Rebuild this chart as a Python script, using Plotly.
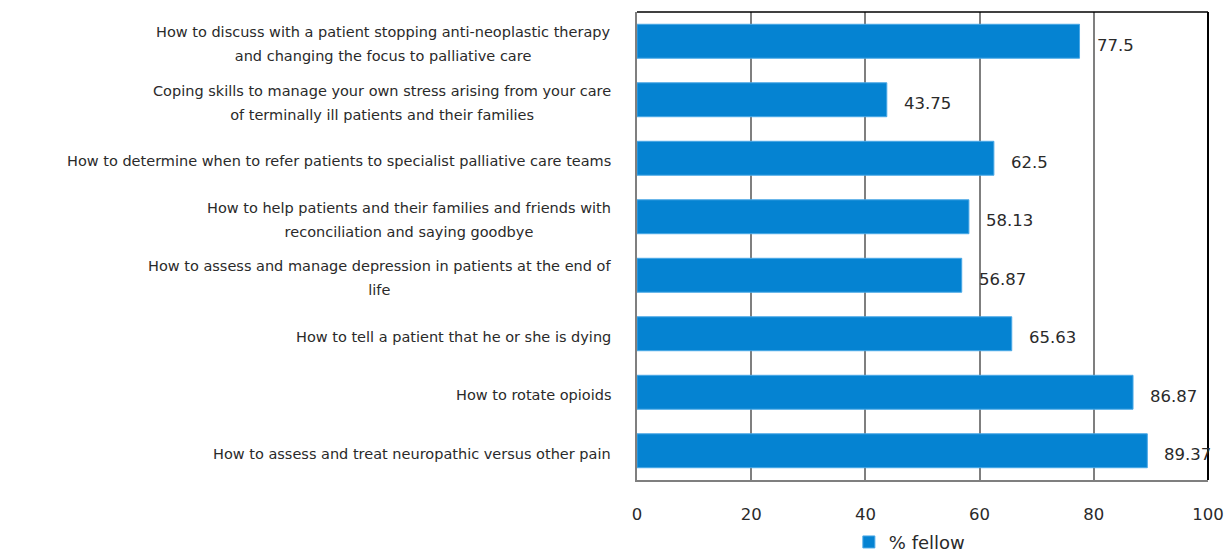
import plotly.graph_objects as go

categories = [
    "How to discuss with a patient stopping anti-neoplastic therapy<br>and changing the focus to palliative care",
    "Coping skills to manage your own stress arising from your care<br>of terminally ill patients and their families",
    "How to determine when to refer patients to specialist palliative care teams",
    "How to help patients and their families and friends with<br>reconciliation and saying goodbye",
    "How to assess and manage depression in patients at the end of<br>life",
    "How to tell a patient that he or she is dying",
    "How to rotate opioids",
    "How to assess and treat neuropathic versus other pain",
]
values = [77.5, 43.75, 62.5, 58.13, 56.87, 65.63, 86.87, 89.37]
value_labels = ["77.5", "43.75", "62.5", "58.13", "56.87", "65.63", "86.87", "89.37"]
series_name = "% fellow"
x_ticks = [0, 20, 40, 60, 80, 100]

FONT = "DejaVu Sans"
BAR = "#0583d2"
TXT = "#2a2a2a"

fig = go.Figure()
fig.add_trace(go.Bar(
    y=categories, x=values, orientation="h", name=series_name,
    marker=dict(color=BAR, line=dict(color="#4aa8e6", width=1)),
    showlegend=True, hoverinfo="x+y",
))

annotations = []
for c, v, t in zip(categories, values, value_labels):
    annotations.append(dict(
        x=v, y=c, xref="x", yref="y", text=t, showarrow=False,
        xanchor="left", yanchor="middle", xshift=15, yshift=-4,
        font=dict(family=FONT, size=16.5, color=TXT),
    ))
    lines = c.split("<br>")
    txt = "<br>".join('<span style="font-size:14.5px">%s</span>' % ln for ln in lines)
    annotations.append(dict(
        x=0, y=c, xref="paper", yref="y", text=txt, showarrow=False,
        xanchor="right", yanchor="middle", align="center", xshift=-24, yshift=-3,
        font=dict(family=FONT, size=18.5, color=TXT),
    ))

fig.update_layout(
    width=1231, height=554,
    margin=dict(l=637, r=23, t=12, b=74, autoexpand=False),
    paper_bgcolor="white", plot_bgcolor="white",
    bargap=0.42,
    font=dict(family=FONT, size=16, color=TXT),
    xaxis=dict(
        range=[0, 100], tickvals=x_ticks, ticktext=[str(t) for t in x_ticks],
        showgrid=True, gridcolor="#7f7f7f", gridwidth=1.5,
        showline=True, linecolor="#7f7f7f", linewidth=1.5,
        zeroline=False, ticks="", ticklabelstandoff=18,
        tickfont=dict(family=FONT, size=16.5, color=TXT),
        fixedrange=True,
    ),
    yaxis=dict(
        type="category", autorange="reversed", showticklabels=False,
        showgrid=False, zeroline=False,
        showline=True, linecolor="#7f7f7f", linewidth=1.5,
        ticks="", fixedrange=True,
    ),
    legend=dict(
        orientation="h", x=0.477, xanchor="center", y=-0.133, yanchor="middle",
        font=dict(family=FONT, size=18, color=TXT),
        bgcolor="rgba(0,0,0,0)",
    ),
    annotations=annotations,
    shapes=[
        dict(type="line", xref="paper", yref="paper", x0=0, x1=1, y0=1, y1=1,
             line=dict(color="#000000", width=1.5)),
        dict(type="line", xref="paper", yref="paper", x0=1, x1=1, y0=0, y1=1,
             line=dict(color="#000000", width=2)),
    ],
)

fig.write_html(
    "out.html",
    config={"displayModeBar": False},
    post_script="document.body.style.margin='0px';document.body.style.overflow='hidden';",
)
